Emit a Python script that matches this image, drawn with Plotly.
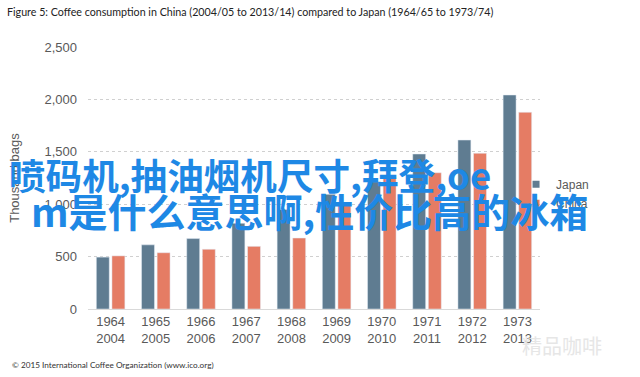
import plotly.graph_objects as go

title_text = "Figure 5: Coffee consumption in China (2004/05 to 2013/14) compared to Japan (1964/65 to 1973/74)"
japan_years = ["1964", "1965", "1966", "1967", "1968", "1969", "1970", "1971", "1972", "1973"]
china_years = ["2004", "2005", "2006", "2007", "2008", "2009", "2010", "2011", "2012", "2013"]
japan_values = [495, 612, 672, 818, 950, 1094, 1215, 1479, 1612, 2042]
china_values = [507, 537, 570, 598, 677, 990, 1262, 1300, 1486, 1877]
y_ticks = [0, 500, 1000, 1500, 2000, 2500]
y_ticklabels = ["0", "500", "1,000", "1,500", "2,000", "2,500"]
overlay_line1 = "喷码机,抽油烟机尺寸,拜登,oe"
overlay_line2 = "m是什么意思啊,性价比高的冰箱"
footer = "© 2015 International Coffee Organization (www.ico.org)"
watermark = "精品咖啡"

JAPAN_COLOR = "#5f7c91"
CHINA_COLOR = "#e57c64"
TICK_FONT = dict(family="Liberation Sans, Arial, sans-serif", size=13, color="#595959")

cats = [f"{j}<br>{c}" for j, c in zip(japan_years, china_years)]

fig = go.Figure()
fig.add_trace(go.Bar(x=cats, y=japan_values, name="Japan", marker_color=JAPAN_COLOR, showlegend=False))
fig.add_trace(go.Bar(x=cats, y=china_values, name="China", marker_color=CHINA_COLOR, showlegend=False))
# legend entries with small square symbols
fig.add_trace(go.Scatter(x=[None], y=[None], mode="markers", name="Japan",
                         marker=dict(symbol="square", size=7, color=JAPAN_COLOR)))
fig.add_trace(go.Scatter(x=[None], y=[None], mode="markers", name="China",
                         marker=dict(symbol="square", size=7, color=CHINA_COLOR)))

fig.update_layout(
    width=640, height=377,
    margin=dict(l=88, r=100, t=47, b=68, autoexpand=False),
    paper_bgcolor="white", plot_bgcolor="white",
    barmode="group", bargap=0.31, bargroupgap=0.17,
    showlegend=True,
    legend=dict(x=0.947, y=0.44, xanchor="left", yanchor="middle",
                font=dict(family="Liberation Sans, Arial, sans-serif", size=12, color="#595959"),
                itemwidth=30, tracegroupgap=4, bgcolor="rgba(0,0,0,0)"),
    xaxis=dict(showgrid=False, showline=True, linecolor="#d9d9d9", linewidth=1,
               ticks="", tickfont=TICK_FONT, automargin=False),
    yaxis=dict(range=[0, 2500], tickvals=y_ticks, ticktext=y_ticklabels,
               showgrid=True, gridcolor="#d0d0d0", griddash="dot", gridwidth=1,
               zeroline=False, showline=False, ticks="", ticklabelstandoff=10,
               tickfont=TICK_FONT, automargin=False,
               title=dict(text="Thousand bags", standoff=21,
                          font=dict(family="Liberation Sans, Arial, sans-serif", size=13, color="#595959"))),
    font=dict(family="Liberation Sans, Arial, sans-serif"),
)

annotations = [
    dict(text=title_text, xref="paper", yref="paper", x=-83/452, y=1 + (47 - 12) / 262,
         xanchor="left", yanchor="middle", showarrow=False,
         font=dict(family="Lato, sans-serif", size=10.7, color="#222222")),
    dict(text=footer, xref="paper", yref="paper", x=-78/452, y=-(365 - 309) / 262,
         xanchor="left", yanchor="middle", showarrow=False,
         font=dict(family="Lato, sans-serif", size=8.2, color="#333333")),
    dict(text=watermark, xref="paper", yref="paper", x=(520 - 88) / 452, y=-(345 - 309) / 262,
         xanchor="left", yanchor="middle", showarrow=False,
         font=dict(family="Noto Sans CJK SC, sans-serif", size=20, color="#e6e6e6")),
    dict(text=overlay_line1, xref="paper", yref="paper", x=-81/452, y=(309 - 174) / 262,
         xanchor="left", yanchor="middle", showarrow=False,
         font=dict(family="Noto Sans CJK SC, sans-serif", size=36.6, color="#1e88e5", weight="bold")),
    dict(text=overlay_line2, xref="paper", yref="paper", x=-59/452, y=(309 - 210) / 262,
         xanchor="left", yanchor="middle", showarrow=False,
         font=dict(family="Noto Sans CJK SC, sans-serif", size=39, color="#1e88e5", weight="bold")),
]
fig.update_layout(annotations=annotations)

fig.write_html("out.html", config={"displayModeBar": False},
               post_script="document.body.style.margin='0';document.body.style.overflow='hidden';")
